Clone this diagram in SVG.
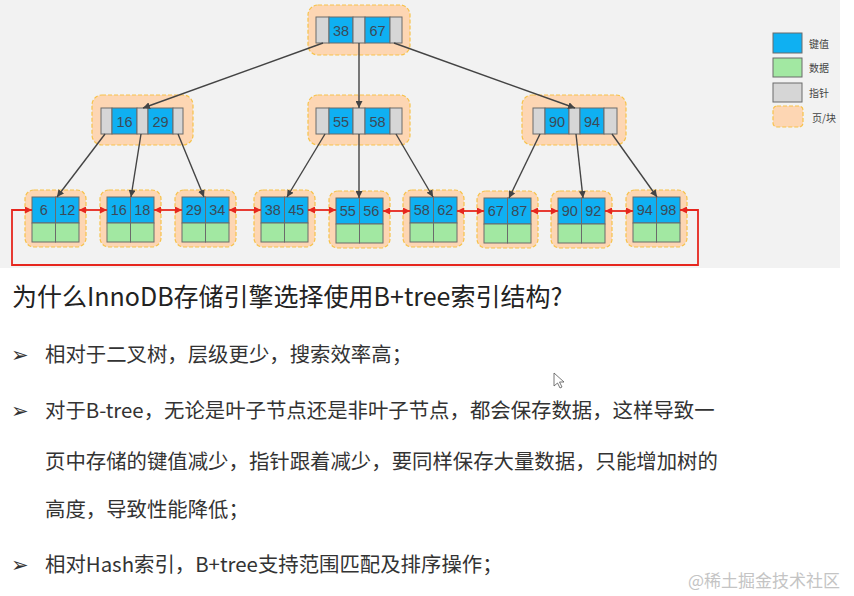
<svg xmlns="http://www.w3.org/2000/svg" width="854" height="596" viewBox="0 0 854 596">
<defs>
<style>
.pg{fill:#fdd6b3;stroke:#f7c24a;stroke-width:1.2;stroke-dasharray:4 2}
.k{fill:#0fb0f2;stroke:#6b6b6b;stroke-width:1}
.d{fill:#a2e8a2;stroke:#6b6b6b;stroke-width:1}
.p{fill:#d6d6d6;stroke:#6b6b6b;stroke-width:1}
.n{font-family:"Liberation Sans",Arial,sans-serif;font-size:14.5px;fill:#3c4a58;text-anchor:middle;dominant-baseline:central}
.lg{font-family:"Noto Sans CJK SC",sans-serif;font-size:10px;fill:#444;dominant-baseline:central}
.bl{stroke:#444;stroke-width:1.4;fill:none;marker-end:url(#ab)}
.rd{stroke:#e6261e;stroke-width:1.8;fill:none;marker-start:url(#ar);marker-end:url(#ar)}
.tx{font-family:"Noto Sans CJK SC","Noto Sans",sans-serif;font-size:20.4px;fill:#333}
.bu{font-family:"DejaVu Sans",sans-serif;font-size:21px;fill:#333}
</style>
<marker id="ab" viewBox="0 0 10 10" refX="10" refY="5" markerWidth="7" markerHeight="7" orient="auto" markerUnits="userSpaceOnUse"><path d="M0,0 L10,5 L0,10 Z" fill="#444"/></marker>
<marker id="ar" viewBox="0 0 10 10" refX="10" refY="5" markerWidth="7" markerHeight="7" orient="auto-start-reverse" markerUnits="userSpaceOnUse"><path d="M0,0 L10,5 L0,10 Z" fill="#e6261e"/></marker>
</defs>
<rect x="0" y="0" width="840" height="268" fill="#f2f2f2"/>

<g id="root">
<rect class="pg" x="308" y="5" width="102" height="50" rx="10"/>
<rect class="p" x="316" y="17" width="13" height="26"/><rect class="k" x="329" y="17" width="24" height="26"/><rect class="p" x="353" y="17" width="12" height="26"/><rect class="k" x="365" y="17" width="25" height="26"/><rect class="p" x="390" y="17" width="12" height="26"/>
<text class="n" x="341" y="30.5">38</text><text class="n" x="377.5" y="30.5">67</text>
</g>
<g id="l2a">
<rect class="pg" x="92" y="95" width="101" height="50" rx="10"/>
<rect class="p" x="101" y="108" width="11" height="26"/><rect class="k" x="112" y="108" width="25" height="26"/><rect class="p" x="137" y="108" width="11" height="26"/><rect class="k" x="148" y="108" width="25" height="26"/><rect class="p" x="173" y="108" width="10" height="26"/>
<text class="n" x="124.5" y="121.5">16</text><text class="n" x="160.5" y="121.5">29</text>
</g>
<g id="l2b">
<rect class="pg" x="308" y="95" width="102" height="50" rx="10"/>
<rect class="p" x="316" y="108" width="13" height="26"/><rect class="k" x="329" y="108" width="24" height="26"/><rect class="p" x="353" y="108" width="12" height="26"/><rect class="k" x="365" y="108" width="25" height="26"/><rect class="p" x="390" y="108" width="12" height="26"/>
<text class="n" x="341" y="121.5">55</text><text class="n" x="377.5" y="121.5">58</text>
</g>
<g id="l2c">
<rect class="pg" x="522" y="95" width="104" height="50" rx="10"/>
<rect class="p" x="533" y="108" width="12" height="26"/><rect class="k" x="545" y="108" width="24" height="26"/><rect class="p" x="569" y="108" width="11" height="26"/><rect class="k" x="580" y="108" width="24" height="26"/><rect class="p" x="604" y="108" width="13" height="26"/>
<text class="n" x="557" y="121.5">90</text><text class="n" x="592" y="121.5">94</text>
</g>

<g id="leaf1"><rect class="pg" x="25" y="190" width="61" height="57" rx="9"/><rect class="k" x="32" y="197" width="23.5" height="26"/><rect class="k" x="55.5" y="197" width="23.5" height="26"/><rect class="d" x="32" y="223" width="23.5" height="19"/><rect class="d" x="55.5" y="223" width="23.5" height="19"/><text class="n" x="43.7" y="210">6</text><text class="n" x="67.2" y="210">12</text></g>
<g id="leaf2"><rect class="pg" x="100" y="190" width="61" height="57" rx="9"/><rect class="k" x="107" y="197" width="23.5" height="26"/><rect class="k" x="130.5" y="197" width="23.5" height="26"/><rect class="d" x="107" y="223" width="23.5" height="19"/><rect class="d" x="130.5" y="223" width="23.5" height="19"/><text class="n" x="118.7" y="210">16</text><text class="n" x="142.2" y="210">18</text></g>
<g id="leaf3"><rect class="pg" x="175" y="190" width="61" height="57" rx="9"/><rect class="k" x="182" y="197" width="23.5" height="26"/><rect class="k" x="205.5" y="197" width="23.5" height="26"/><rect class="d" x="182" y="223" width="23.5" height="19"/><rect class="d" x="205.5" y="223" width="23.5" height="19"/><text class="n" x="193.7" y="210">29</text><text class="n" x="217.2" y="210">34</text></g>
<g id="leaf4"><rect class="pg" x="254" y="190" width="61" height="57" rx="9"/><rect class="k" x="261" y="197" width="23.5" height="26"/><rect class="k" x="284.5" y="197" width="23.5" height="26"/><rect class="d" x="261" y="223" width="23.5" height="19"/><rect class="d" x="284.5" y="223" width="23.5" height="19"/><text class="n" x="272.7" y="210">38</text><text class="n" x="296.2" y="210">45</text></g>
<g id="leaf5"><rect class="pg" x="329" y="191" width="61" height="57" rx="9"/><rect class="k" x="336" y="198" width="23.5" height="26"/><rect class="k" x="359.5" y="198" width="23.5" height="26"/><rect class="d" x="336" y="224" width="23.5" height="19"/><rect class="d" x="359.5" y="224" width="23.5" height="19"/><text class="n" x="347.7" y="211">55</text><text class="n" x="371.2" y="211">56</text></g>
<g id="leaf6"><rect class="pg" x="403" y="190" width="61" height="57" rx="9"/><rect class="k" x="410" y="197" width="23.5" height="26"/><rect class="k" x="433.5" y="197" width="23.5" height="26"/><rect class="d" x="410" y="223" width="23.5" height="19"/><rect class="d" x="433.5" y="223" width="23.5" height="19"/><text class="n" x="421.7" y="210">58</text><text class="n" x="445.2" y="210">62</text></g>
<g id="leaf7"><rect class="pg" x="477" y="191" width="61" height="57" rx="9"/><rect class="k" x="484" y="198" width="23.5" height="26"/><rect class="k" x="507.5" y="198" width="23.5" height="26"/><rect class="d" x="484" y="224" width="23.5" height="19"/><rect class="d" x="507.5" y="224" width="23.5" height="19"/><text class="n" x="495.7" y="211">67</text><text class="n" x="519.2" y="211">87</text></g>
<g id="leaf8"><rect class="pg" x="551" y="191" width="61" height="57" rx="9"/><rect class="k" x="558" y="198" width="23.5" height="26"/><rect class="k" x="581.5" y="198" width="23.5" height="26"/><rect class="d" x="558" y="224" width="23.5" height="19"/><rect class="d" x="581.5" y="224" width="23.5" height="19"/><text class="n" x="569.7" y="211">90</text><text class="n" x="593.2" y="211">92</text></g>
<g id="leaf9"><rect class="pg" x="626" y="190" width="61" height="57" rx="9"/><rect class="k" x="633" y="197" width="23.5" height="26"/><rect class="k" x="656.5" y="197" width="23.5" height="26"/><rect class="d" x="633" y="223" width="23.5" height="19"/><rect class="d" x="656.5" y="223" width="23.5" height="19"/><text class="n" x="644.7" y="210">94</text><text class="n" x="668.2" y="210">98</text></g>

<g id="connectors">
<line class="bl" x1="323" y1="43" x2="143" y2="108"/>
<line class="bl" x1="359" y1="43" x2="359" y2="108"/>
<line class="bl" x1="394" y1="43" x2="575" y2="108"/>
<line class="bl" x1="105" y1="134" x2="57" y2="197"/>
<line class="bl" x1="141" y1="134" x2="131" y2="197"/>
<line class="bl" x1="178" y1="134" x2="204" y2="197"/>
<line class="bl" x1="325" y1="134" x2="287" y2="197"/>
<line class="bl" x1="359" y1="134" x2="359" y2="198"/>
<line class="bl" x1="396" y1="134" x2="433" y2="197"/>
<line class="bl" x1="540" y1="134" x2="509" y2="198"/>
<line class="bl" x1="576" y1="134" x2="583" y2="198"/>
<line class="bl" x1="612" y1="134" x2="657" y2="197"/>
<line class="rd" x1="79" y1="210" x2="107" y2="210"/>
<line class="rd" x1="154" y1="210" x2="182" y2="210"/>
<line class="rd" x1="229" y1="210" x2="261" y2="210"/>
<line class="rd" x1="308" y1="210" x2="336" y2="210"/>
<line class="rd" x1="383" y1="211" x2="410" y2="211"/>
<line class="rd" x1="457" y1="211" x2="484" y2="211"/>
<line class="rd" x1="531" y1="211" x2="558" y2="211"/>
<line class="rd" x1="605" y1="211" x2="633" y2="211"/>
<path class="rd" d="M680 210 L698 210 L698 265 L12 265 L12 210 L32 210"/>
</g>

<g id="legend">
<rect class="k" x="773" y="33" width="29" height="20"/>
<rect class="d" x="773" y="58" width="29" height="19"/>
<rect class="p" x="773" y="83" width="29" height="19"/>
<rect class="pg" x="773" y="106" width="30" height="21" rx="4"/>
<text class="lg" x="809" y="43">键值</text>
<text class="lg" x="809" y="67">数据</text>
<text class="lg" x="809" y="92">指针</text>
<text class="lg" x="812" y="117">页/块</text>
</g>

<text x="12" y="306" font-family="'Noto Sans CJK SC',sans-serif" font-size="25" fill="#222">为什么InnoDB存储引擎选择使用B+tree索引结构?</text>
<text class="bu" x="11" y="362">➢</text>
<text class="tx" x="45" y="362">相对于二叉树，层级更少，搜索效率高；</text>
<text class="bu" x="11" y="418">➢</text>
<text class="tx" x="45" y="418">对于B-tree，无论是叶子节点还是非叶子节点，都会保存数据，这样导致一</text>
<text class="tx" x="45" y="469">页中存储的键值减少，指针跟着减少，要同样保存大量数据，只能增加树的</text>
<text class="tx" x="45" y="517">高度，导致性能降低；</text>
<text class="bu" x="11" y="572">➢</text>
<text class="tx" x="45" y="572">相对Hash索引，B+tree支持范围匹配及排序操作；</text>

<path d="M554 373 L554 386 L557.5 383 L560 388 L562 387 L559.5 382 L564 382 Z" fill="#fff" stroke="#555" stroke-width="0.8"/>
<text x="688" y="587" font-family="'Noto Sans CJK SC',sans-serif" font-size="17" fill="#c4c4c4">@稀土掘金技术社区</text>
</svg>
